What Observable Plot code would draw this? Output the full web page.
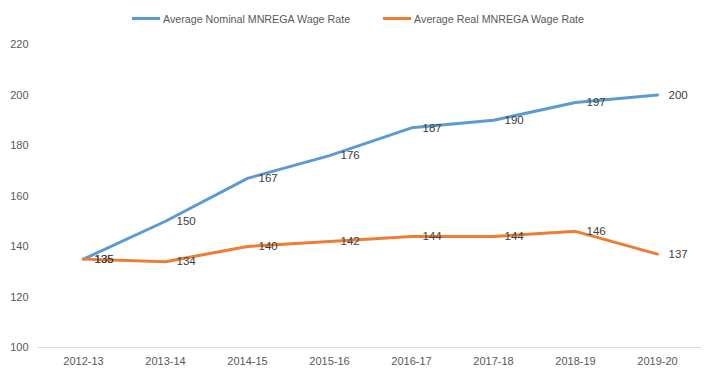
<!DOCTYPE html>
<html>
<head>
<meta charset="utf-8">
<script src="https://cdn.jsdelivr.net/npm/d3@7"></script>
<script src="https://cdn.jsdelivr.net/npm/@observablehq/plot@0.6"></script>
<style>
  body { margin: 0; background: #fff; font-family: "Liberation Sans", Arial, sans-serif; }
  #legend { height: 36px; display: flex; justify-content: center; align-items: center; gap: 33px; font-size: 10.7px; color: #595959; box-sizing: border-box; padding-top: 1px; }
  .item { display: flex; align-items: center; }
  .sw { width: 28px; height: 3px; margin-right: 3px; }
</style>
</head>
<body>
<div id="legend"></div>
<div id="chart"></div>
<script>
const years = ["2012-13","2013-14","2014-15","2015-16","2016-17","2017-18","2018-19","2019-20"];
const nominal = [135, 150, 167, 176, 187, 190, 197, 200];
const real = [135, 134, 140, 142, 144, 144, 146, 137];
const seriesNames = ["Average Nominal MNREGA Wage Rate", "Average Real MNREGA Wage Rate"];
const colors = ["#5B9BD5", "#ED7D31"];
const yTicks = [100, 120, 140, 160, 180, 200, 220];

const data = [];
years.forEach((y, i) => {
  data.push({year: y, value: nominal[i], series: seriesNames[0]});
  data.push({year: y, value: real[i], series: seriesNames[1]});
});

const legend = document.getElementById("legend");
seriesNames.forEach((n, i) => {
  const it = document.createElement("div");
  it.className = "item";
  it.innerHTML = `<span class="sw" style="background:${colors[i]}"></span><span>${n}</span>`;
  legend.appendChild(it);
});

const chart = Plot.plot({
  width: 716,
  height: 342,
  marginTop: 8,
  marginBottom: 31,
  marginLeft: 38,
  marginRight: 15,
  style: {fontFamily: "Liberation Sans, Arial, sans-serif", fontSize: "11px", color: "#595959"},
  x: {type: "point", domain: years, padding: 0.5, label: null, tickSize: 0, tickPadding: 10},
  y: {domain: [100, 220], ticks: yTicks, label: null, tickSize: 0, tickPadding: 10},
  color: {domain: seriesNames, range: colors},
  marks: [
    Plot.ruleY([100], {stroke: "#d9d9d9", strokeWidth: 1}),
    Plot.line(data, {x: "year", y: "value", stroke: "series", strokeWidth: 3}),
    Plot.text(data, {x: "year", y: "value", text: d => String(d.value), textAnchor: "start", dx: 11, dy: 0, fill: "#404040", fontSize: 11.5})
  ]
});
document.getElementById("chart").appendChild(chart);
</script>
</body>
</html>
